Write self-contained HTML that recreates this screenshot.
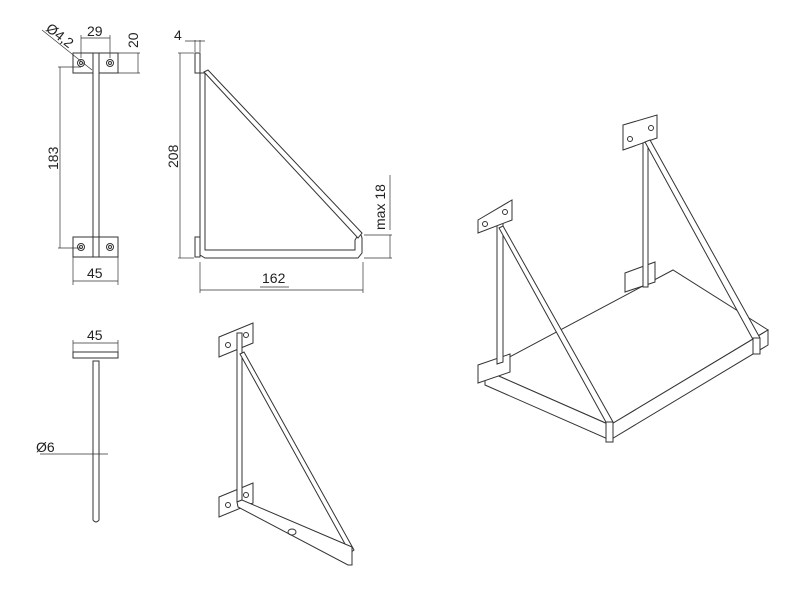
<!DOCTYPE html>
<html><head><meta charset="utf-8"><style>
html,body{margin:0;padding:0;background:#fff;width:800px;height:600px;overflow:hidden}
svg{display:block}
text{font-family:"Liberation Sans",sans-serif;font-size:14px;fill:#222;stroke:none}
</style></head><body>
<svg width="800" height="600" viewBox="0 0 800 600" fill="none" stroke="#333" stroke-width="1">
<!-- Front view top -->
<rect x="73" y="53" width="45" height="20" fill="#fff"/>
<rect x="93" y="53" width="6" height="204" fill="#fff"/>
<rect x="73" y="237" width="45" height="20" fill="#fff"/>
<rect x="93" y="237" width="6" height="20" fill="#fff"/>
<circle cx="81" cy="63" r="3.5"/><circle cx="81" cy="63" r="1.5"/>
<circle cx="110" cy="63" r="3.5"/><circle cx="110" cy="63" r="1.5"/>
<circle cx="81" cy="247" r="3.5"/><circle cx="81" cy="247" r="1.5"/>
<circle cx="110" cy="247" r="3.5"/><circle cx="110" cy="247" r="1.5"/>
<g stroke-width="0.7">
<line x1="81" y1="38" x2="110" y2="38"/><line x1="81" y1="35" x2="81" y2="58"/><line x1="110" y1="35" x2="110" y2="58"/>
<line x1="118" y1="53" x2="140" y2="53"/><line x1="118" y1="73" x2="140" y2="73"/><line x1="138" y1="53" x2="138" y2="73"/>
<line x1="42" y1="30" x2="92" y2="70"/>
<line x1="60" y1="67" x2="60" y2="248"/><line x1="58" y1="67" x2="81" y2="67"/><line x1="58" y1="248" x2="81" y2="248"/>
<line x1="73" y1="257" x2="73" y2="285"/><line x1="118" y1="257" x2="118" y2="285"/><line x1="73" y1="281" x2="118" y2="281"/>
</g>
<text x="87" y="36">29</text>
<text transform="translate(138,48) rotate(-90)">20</text>
<text transform="translate(45,30) rotate(38)">Ø4,2</text>
<text transform="translate(58,170) rotate(-90)">183</text>
<text x="87" y="278">45</text>

<!-- Side view -->
<rect x="195" y="53" width="5" height="20" fill="#fff"/>
<rect x="195" y="237" width="5" height="20" fill="#fff"/>
<path d="M200 73 L205 73 L205 250 L355 250 L355 240 L360 232 L362 238 L362 253 L358 258 L205 258 L200 255 Z" fill="#fff"/>
<path d="M204 72 L208 70 L362 233 L358 238 Z" fill="#fff"/>
<g stroke-width="0.7">
<line x1="195" y1="40" x2="195" y2="52"/><line x1="200" y1="40" x2="200" y2="52"/><line x1="185" y1="41" x2="205" y2="41"/>
<line x1="178" y1="53" x2="194" y2="53"/><line x1="178" y1="258" x2="194" y2="258"/><line x1="180" y1="53" x2="180" y2="258"/>
<line x1="364" y1="235" x2="392" y2="235"/><line x1="364" y1="258" x2="392" y2="258"/><line x1="390" y1="235" x2="390" y2="258"/>
<line x1="390" y1="175" x2="390" y2="230"/>
<line x1="200" y1="262" x2="200" y2="293"/><line x1="363" y1="262" x2="363" y2="293"/><line x1="200" y1="290" x2="363" y2="290"/>
<line x1="260" y1="287" x2="289" y2="287"/>
</g>
<text x="174" y="40">4</text>
<text transform="translate(178,168) rotate(-90)">208</text>
<text transform="translate(385,230) rotate(-90)">max 18</text>
<text x="262" y="283">162</text>

<!-- Bottom left view -->
<rect x="73" y="352" width="45" height="6" fill="#fff"/>
<path d="M93 361 L99 361 L99 520 Q96 524 93 520 Z" fill="#fff"/>
<g stroke-width="0.7">
<line x1="73" y1="343" x2="118" y2="343"/><line x1="73" y1="340" x2="73" y2="352"/><line x1="118" y1="340" x2="118" y2="352"/>
<line x1="40" y1="454" x2="108" y2="454"/>
</g>
<text x="87" y="340">45</text>
<text x="36" y="452">Ø6</text>

<!-- Iso bracket -->
<path d="M219 337 L253 323 L253 343 L219 357 Z" fill="#fff"/>
<path d="M219 497 L253 483 L253 503 L219 517 Z" fill="#fff"/>
<circle cx="228" cy="345" r="2.5"/><circle cx="246" cy="335" r="2.5"/>
<circle cx="228" cy="505" r="2.5"/><circle cx="246" cy="495" r="2.5"/>
<path d="M237 333 L242 333 L242 500 L237 502 Z" fill="#fff"/>
<path d="M240 354 L244 352 L354 550 L350 553 Z" fill="#fff"/>
<path d="M237 502 L242 500 L352 547 L352 565 L348 565 L238 507 Z" fill="#fff"/>
<ellipse cx="292" cy="532" rx="4" ry="3"/>

<!-- Iso shelf -->
<path d="M485 370 L673 270 L768 330 L610 425 Z" fill="#fff"/>
<path d="M485 370 L485 385 L610 440 L610 425 Z" fill="#fff"/>
<path d="M610 425 L610 440 L768 345 L768 330 Z" fill="#fff"/>
<path d="M625 273 L655 262 L655 282 L625 292 Z" fill="#fff"/>
<path d="M643 128 L648 128 L648 287 L643 287 Z" fill="#fff"/>
<path d="M623 125 L657 115 L657 138 L623 150 Z" fill="#fff"/>
<circle cx="630" cy="139" r="2.5"/><circle cx="651" cy="128" r="2.5"/>
<path d="M645 142 L650 140 L760 338 L756 345 Z" fill="#fff"/>
<rect x="753" y="338" width="7" height="16" fill="#fff"/>
<path d="M478 365 L510 354 L510 372 L478 383 Z" fill="#fff"/>
<path d="M497 210 L503 210 L503 362 L497 364 Z" fill="#fff"/>
<path d="M478 220 L512 200 L512 220 L478 233 Z" fill="#fff"/>
<circle cx="485" cy="224" r="2.5"/><circle cx="505" cy="212" r="2.5"/>
<path d="M499 228 L503 226 L613 422 L607 424 Z" fill="#fff"/>
<rect x="606" y="422" width="7" height="20" fill="#fff"/>
</svg>
</body></html>
